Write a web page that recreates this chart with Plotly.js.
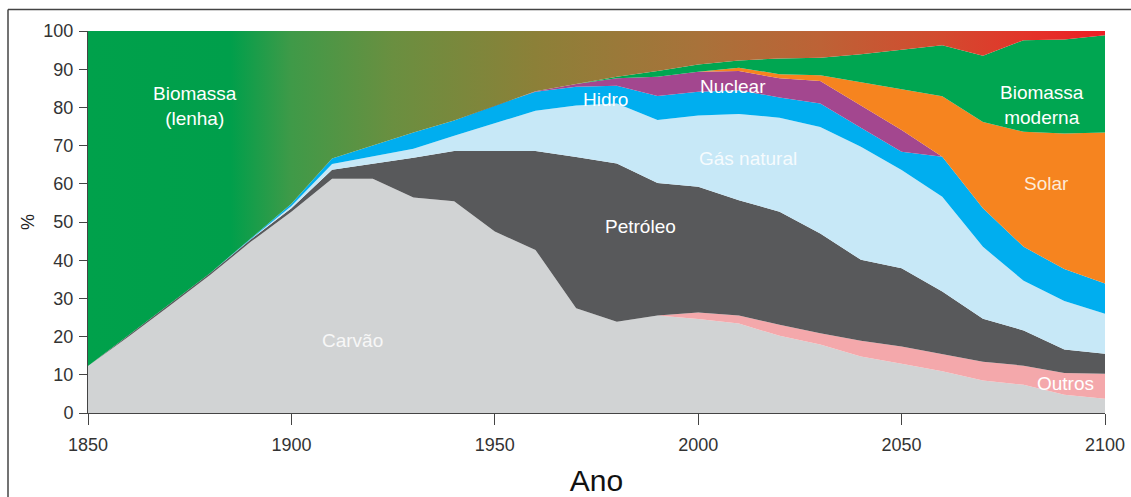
<!DOCTYPE html>
<html>
<head>
<meta charset="utf-8">
<script src="https://cdn.plot.ly/plotly-3.0.1.min.js"></script>
<style>
  html, body { margin: 0; padding: 0; background: #ffffff; }
  #chart { width: 1131px; height: 497px; }
</style>
</head>
<body>
<div id="chart"></div>
<script>
// Years (decades)
const years = [1850,1860,1870,1880,1890,1900,1910,1920,1930,1940,1950,1960,1970,1980,1990,2000,2010,2020,2030,2040,2050,2060,2070,2080,2090,2100];

// Shares of primary energy (%)
const carvao   = [12.3,20.0,28.0,36.1,44.8,52.7,61.3,61.3,56.4,55.4,47.5,42.7,27.4,23.9,25.5,24.6,23.4,20.2,17.9,14.8,12.9,10.9,8.5,7.4,4.8,3.7];
const outros   = [0,0,0,0,0,0,0,0,0,0,0,0,0,0,0,1.7,2.1,2.9,3.0,4.1,4.5,4.6,4.9,5.0,5.7,6.6];
const petroleo = [0,0.4,0.5,0.5,0.6,0.9,2.4,3.9,10.4,13.2,21.1,25.9,39.6,41.4,34.7,32.9,30.2,29.6,26.1,21.2,20.5,16.3,11.3,9.2,6.1,5.2];
const gas      = [0,0,0,0,0.1,0.6,1.5,1.9,2.4,4.0,7.2,10.5,13.5,15.7,16.5,18.7,22.6,24.6,27.9,29.6,25.7,24.8,18.8,13.0,12.7,10.5];
const hidro    = [0,0,0,0,0.2,0.6,1.4,3.0,4.2,4.0,4.7,5.0,4.9,4.7,6.3,6.2,6.2,5.3,6.1,5.0,4.8,10.5,10.1,8.9,8.4,7.9];
const nuclear  = [0,0,0,0,0,0,0,0,0,0,0,0.1,0.7,1.9,5.0,5.2,5.0,5.0,5.9,5.7,5.7,0,0,0,0,0];
const solar    = [0,0,0,0,0,0,0,0,0,0,0,0,0,0,0,0,0.9,1.1,1.5,6.2,10.7,15.8,22.6,30.1,35.5,39.5];
const biomassaModerna = [0,0,0,0,0,0,0,0,0,0,0,0,0,0.4,1.5,1.9,1.9,4.1,4.6,7.3,10.3,13.4,17.3,24.0,24.6,25.5];
const biomassaLenha   = [87.7,79.6,71.5,63.4,54.3,45.2,33.4,29.9,26.6,23.4,19.5,15.8,13.9,12.0,10.5,8.8,7.7,7.2,7.0,6.1,4.9,3.7,6.5,2.4,2.2,1.1];

const seriesNames = ['Carvão','Outros','Petróleo','Gás natural','Hidro','Nuclear','Solar','Biomassa moderna','Biomassa (lenha)'];
const seriesData  = [carvao, outros, petroleo, gas, hidro, nuclear, solar, biomassaModerna, biomassaLenha];
const seriesColors = ['#d1d3d4','#f4a8ab','#58595b','#c7e8f7','#00aeef','#a3478f','#f6841f','#00a651','#00a14b'];

const traces = seriesData.map((vals, i) => {
  const t = {
    type: 'scatter',
    mode: 'lines',
    name: seriesNames[i],
    x: years,
    y: vals,
    stackgroup: 'energia',
    line: { width: 0, shape: 'linear' },
    fillcolor: seriesColors[i],
    hoverinfo: 'x+y+name'
  };
  if (i === seriesData.length - 1) {
    t.fillgradient = {
      type: 'horizontal',
      start: 1850,
      stop: 2100,
      colorscale: [
        [0.00, '#00a14b'],
        [0.14, '#009f4b'],
        [0.20, '#3f9a48'],
        [0.30, '#6a8f40'],
        [0.44, '#8c8038'],
        [0.60, '#a8723a'],
        [0.72, '#bd6236'],
        [0.84, '#d34a2f'],
        [0.92, '#e2352a'],
        [1.00, '#ed1c24']
      ]
    };
  }
  return t;
});

const labelFont = { family: 'Liberation Sans, Arial, sans-serif', size: 19, color: '#ffffff' };
function lab(text, x, y, color) {
  return {
    text: text, x: x, y: y, xref: 'x', yref: 'y', showarrow: false,
    font: Object.assign({}, labelFont, color ? { color: color } : {}),
    align: 'center'
  };
}

const annotations = [
  lab('Biomassa<br>(lenha)', 1876.3, 80.3),
  lab('Carvão', 1914.9, 18.9, '#f7f7f7'),
  lab('Petróleo', 1985.7, 48.7),
  lab('Hidro', 1977.3, 82.2),
  lab('Nuclear', 2008.6, 85.5),
  lab('Gás natural', 2012.2, 66.7, 'rgba(255,255,255,0.85)'),
  lab('Solar', 2085.5, 60.2, '#fdebd8'),
  lab('Biomassa<br>moderna', 2084.5, 80.6),
  lab('Outros', 2090.4, 7.7)
];

// frame lines (top and left) around the figure
const plotL = 88, plotR = 1105, plotT = 31, plotB = 413;
const px2xp = px => (px - plotL) / (plotR - plotL);
const py2yp = py => (plotB - py) / (plotB - plotT);

const layout = {
  width: 1131,
  height: 497,
  margin: { l: plotL, r: 1131 - plotR, t: plotT, b: 497 - plotB, pad: 0 },
  paper_bgcolor: '#ffffff',
  plot_bgcolor: '#ffffff',
  showlegend: false,
  font: { family: 'Liberation Sans, Arial, sans-serif', size: 18, color: '#333333' },
  xaxis: {
    range: [1850, 2100],
    tickmode: 'array',
    tickvals: [1850, 1900, 1950, 2000, 2050, 2100],
    ticktext: ['1850', '1900', '1950', '2000', '2050', '2100'],
    ticks: 'outside',
    ticklen: 11,
    tickcolor: '#444444',
    tickwidth: 1,
    showline: true,
    linecolor: '#444444',
    linewidth: 1,
    showgrid: false,
    zeroline: false,
    ticklabelstandoff: 4,
    tickfont: { size: 18, color: '#333333' },
    title: { text: 'Ano', font: { size: 30, color: '#111111' }, standoff: 18 }
  },
  yaxis: {
    range: [0, 100],
    tickmode: 'array',
    tickvals: [0,10,20,30,40,50,60,70,80,90,100],
    ticktext: ['0','10','20','30','40','50','60','70','80','90','100'],
    ticks: 'outside',
    ticklen: 8,
    tickcolor: '#444444',
    tickwidth: 1,
    showline: true,
    linecolor: '#444444',
    linewidth: 1,
    showgrid: false,
    zeroline: false,
    ticklabelstandoff: 2,
    tickfont: { size: 18, color: '#333333' },
    title: { text: '%', font: { size: 18, color: '#222222' }, standoff: 4 }
  },
  annotations: annotations,
  shapes: [
    { type: 'line', xref: 'paper', yref: 'paper', layer: 'above',
      x0: px2xp(8), x1: px2xp(1131), y0: py2yp(9.5), y1: py2yp(9.5),
      line: { color: '#444444', width: 1.5 } },
    { type: 'line', xref: 'paper', yref: 'paper', layer: 'above',
      x0: px2xp(8), x1: px2xp(8), y0: py2yp(9.5), y1: py2yp(497),
      line: { color: '#444444', width: 1.5 } }
  ]
};

Plotly.newPlot('chart', traces, layout, { displayModeBar: false, staticPlot: true });
</script>
</body>
</html>
